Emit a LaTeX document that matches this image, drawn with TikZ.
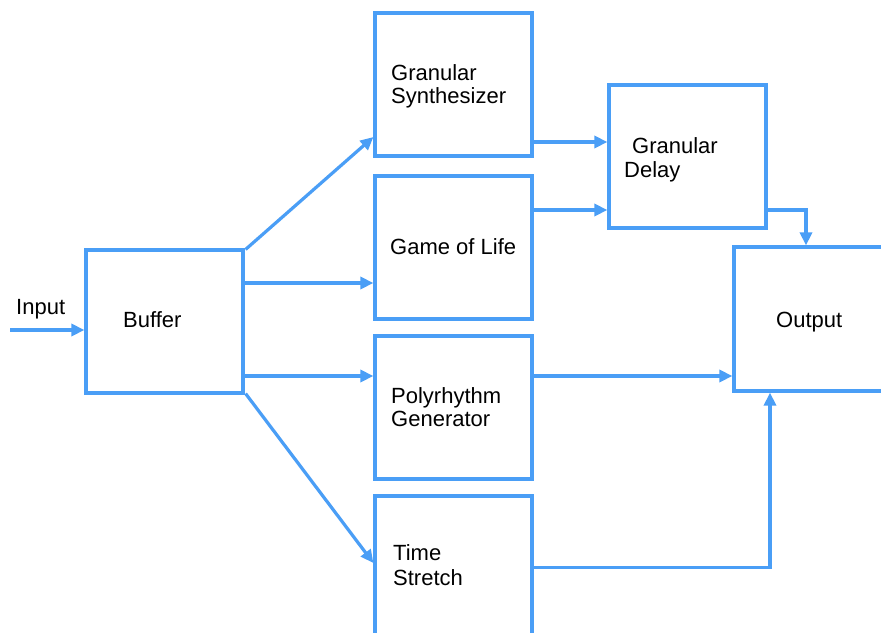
\documentclass[tikz,border=0pt]{standalone}
\usepackage{fontspec}
\setmainfont{Liberation Sans}
\usetikzlibrary{arrows.meta}
\definecolor{flow}{RGB}{74,158,246}
\begin{document}
\begin{tikzpicture}[x=1pt,y=-1pt,
  block/.style={draw=flow, line width=3.2pt, fill=white, minimum width=157pt, minimum height=143pt, inner sep=0pt},
  txt/.style={anchor=base west, inner sep=0pt, font=\fontsize{22}{25}\selectfont},
  arr/.style={draw=flow, line width=3.2pt, -{Triangle[length=13pt,width=12pt]}}]
\useasboundingbox (0,0) rectangle (881,632);
\clip (0,0) rectangle (881,632);
\fill[white] (0,0) rectangle (881,632);

% processing blocks
\node[block] (buf)  at (164.5,321.5) {};
\node[block] (gs)   at (453.5,84.5) {};
\node[block] (gol)  at (453.5,247.5) {};
\node[block] (poly) at (453.5,407.5) {};
\node[block] (ts)   at (453.5,567.5) {};
\node[block] (gd)   at (687.5,156.5) {};
\node[block, minimum height=144pt] (out) at (812.5,319) {};

% block labels
\node[txt] (lin)  at (16,314)  {Input};
\node[txt] (lbuf) at (123,327) {Buffer};
\node[txt] (lgs1) at (391,80)  {Granular};
\node[txt] (lgs2) at (391,103) {Synthesizer};
\node[txt] (lgol) at (390,254) {Game of Life};
\node[txt] (lpr1) at (391,403) {Polyrhythm};
\node[txt] (lpr2) at (391,426) {Generator};
\node[txt] (lts1) at (393,560) {Time};
\node[txt] (lts2) at (393,585) {Stretch};
\node[txt] (lgd1) at (632,153) {Granular};
\node[txt] (lgd2) at (624,177) {Delay};
\node[txt] (lout) at (776,327) {Output};

% signal flow
\coordinate (src) at (10,330);
\draw[arr] (src) -- ([yshift=-8.5pt]buf.west);
\draw[arr] ([shift={(1pt,-1pt)}]buf.north east) -- ([yshift=-52.5pt]gs.west);
\draw[arr] ([yshift=38.5pt]buf.east) -- ([yshift=-35.5pt]gol.west);
\draw[arr] ([yshift=-54.5pt]buf.east) -- ([yshift=31.5pt]poly.west);
\draw[arr] ([shift={(1pt,1pt)}]buf.south east) -- ([yshift=4.5pt]ts.west);
\draw[arr] ([yshift=-57.5pt]gs.east) -- ([yshift=14.5pt]gd.west);
\draw[arr] ([yshift=37.5pt]gol.east) -- ([yshift=-53.5pt]gd.west);
\draw[arr] ([yshift=-53.5pt]gd.east) -| ([xshift=-6.5pt]out.north);
\draw[arr] ([yshift=31.5pt]poly.east) -- ([yshift=-57pt]out.west);
\draw[arr] (ts.east) -| ([xshift=-42.5pt]out.south);
\end{tikzpicture}
\end{document}
